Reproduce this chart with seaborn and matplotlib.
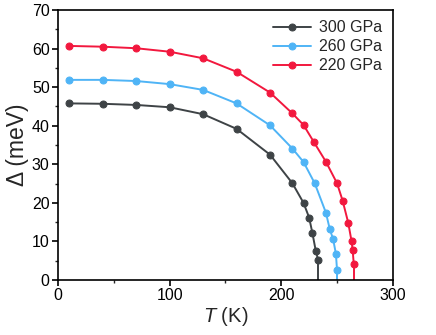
import matplotlib
matplotlib.use("Agg")
import matplotlib.pyplot as plt
import seaborn as sns
from matplotlib.ticker import MultipleLocator

# gap vs temperature
T_300 = [10, 40, 70, 100, 130, 160, 190, 210, 220, 225, 228, 231, 233]
D_300 = [45.8, 45.7, 45.4, 44.8, 43.0, 39.2, 32.5, 25.1, 20.0, 16.2, 12.1, 7.5, 5.3]

T_260 = [10, 40, 70, 100, 130, 160, 190, 210, 220, 230, 240, 243.5, 246.5, 249, 250]
D_260 = [51.9, 51.9, 51.6, 50.8, 49.3, 45.8, 40.1, 34.1, 30.6, 25.1, 17.5, 13.2, 10.6, 6.8, 2.6]

T_220 = [10, 40, 70, 100, 130, 160, 190, 210, 220, 229, 240, 250, 255, 260, 263, 264, 265]
D_220 = [60.7, 60.5, 60.1, 59.2, 57.5, 54.0, 48.6, 43.2, 40.2, 35.9, 30.7, 25.1, 20.6, 14.9, 10.1, 7.8, 4.1]

TC = [233, 250, 265]
LABELS = ["300 GPa", "260 GPa", "220 GPa"]
COLORS = ["#3e4346", "#4fb4f6", "#f2183e"]

sns.set_style("ticks")
plt.rcParams["font.family"] = ["Liberation Sans", "DejaVu Sans"]
plt.rcParams["mathtext.fontset"] = "custom"
plt.rcParams["mathtext.rm"] = "Liberation Sans"
plt.rcParams["mathtext.it"] = "Liberation Sans:italic"

fig = plt.figure(figsize=(4.36, 3.35), dpi=100)
ax = fig.add_axes([0.133, 0.164, 0.768, 0.806])

series = [(T_300, D_300), (T_260, D_260), (T_220, D_220)]
for (t, d), tc, lab, col in zip(series, TC, LABELS, COLORS):
    sns.lineplot(x=t, y=d, ax=ax, color=col, marker="o", markersize=5,
                 markeredgecolor=col, linewidth=1.4, label=lab,
                 sort=False, estimator=None)
    # drop to zero at Tc
    ax.plot([t[-1], tc], [d[-1], 0], color=col, linewidth=1.4)

ax.set_xlim(0, 300)
ax.set_ylim(0, 70)
ax.xaxis.set_major_locator(MultipleLocator(100))
ax.xaxis.set_minor_locator(MultipleLocator(50))
ax.yaxis.set_major_locator(MultipleLocator(10))
ax.yaxis.set_minor_locator(MultipleLocator(5))
ax.tick_params(which="major", direction="out", length=4, width=1.2,
               labelsize=11.5, color="black", labelcolor="black", pad=2)
ax.tick_params(which="minor", direction="out", length=2.5, width=1.0)
for s in ax.spines.values():
    s.set_visible(True)
    s.set_linewidth(1.2)
    s.set_color("black")

ax.set_xlabel("$T$ (K)", fontsize=14.5, labelpad=1)
ax.set_ylabel("Δ (meV)", fontsize=16.5, labelpad=2)

ax.legend(loc="upper right", fontsize=11.5, frameon=False,
          borderaxespad=0, borderpad=0.65, labelspacing=0.25,
          handlelength=2.4, handletextpad=0.5)

fig.savefig("out.png", dpi=100)
plt.close(fig)
